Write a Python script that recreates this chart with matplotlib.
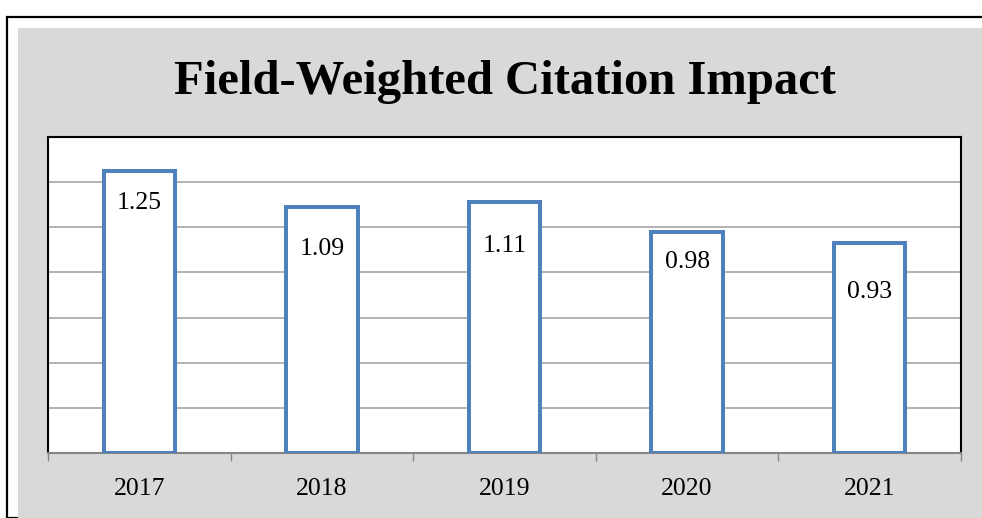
import matplotlib.pyplot as plt
from matplotlib.patches import Rectangle
import numpy as np

# ==== data ====
years = ['2017', '2018', '2019', '2020', '2021']
fwci = [1.25, 1.09, 1.11, 0.98, 0.93]
title = 'Field-Weighted Citation Impact'

# how far below the bar top each value label sits (points)
label_drop = [23.5, 30, 31, 22, 35.5]

blue = '#4F81BD'
W, H = 982, 518

plt.rcParams['font.family'] = ['Liberation Serif', 'DejaVu Serif']

fig = plt.figure(figsize=(W / 100, H / 100), dpi=100)
fig.patch.set_facecolor('white')

# outer frame + grey chart area
fig.patches.append(Rectangle((7 / W, 0), 1.0, 1 - 17 / H, transform=fig.transFigure,
                             facecolor='none', edgecolor='black', linewidth=1.6, zorder=-10))
fig.patches.append(Rectangle((18 / W, 0), 1.0, 1 - 28 / H, transform=fig.transFigure,
                             facecolor='#D9D9D9', edgecolor='none', zorder=-9))

fig.text(505 / W, 1 - 82 / H, title, ha='center', va='center',
         fontsize=35, fontweight='bold')

ax = fig.add_axes([48 / W, 1 - 453 / H, 913 / W, 316 / H])
ax.set_facecolor('white')

x = np.arange(len(years))
ax.bar(x, fwci, width=0.39, facecolor='white', edgecolor=blue, linewidth=2.9, zorder=3)

for xi, v, d in zip(x, fwci, label_drop):
    ax.annotate(f'{v:.2f}', (xi, v), xytext=(0, -d), textcoords='offset points',
                ha='center', va='center', fontsize=18.5, zorder=4)

ax.set_xlim(-0.5, len(years) - 0.5)
ax.set_ylim(0, 1.4)
ax.set_yticks(np.arange(0, 1.41, 0.2))
ax.set_yticklabels([])
ax.tick_params(axis='y', length=0)
ax.yaxis.grid(True, color='#A6A6A6', linewidth=1.2)
ax.set_axisbelow(True)

ax.set_xticks(x)
ax.set_xticklabels(years, fontsize=18.5)
ax.tick_params(axis='x', which='major', length=0, pad=18)
ax.set_xticks(np.arange(-0.5, len(years), 1.0), minor=True)
ax.tick_params(axis='x', which='minor', length=6, width=1, color='#868686', direction='out')

for s in ['top', 'left', 'right']:
    ax.spines[s].set_color('black')
    ax.spines[s].set_linewidth(1.5)
ax.spines['bottom'].set_color('#868686')
ax.spines['bottom'].set_linewidth(1.5)

fig.savefig('out.png', dpi=100)
